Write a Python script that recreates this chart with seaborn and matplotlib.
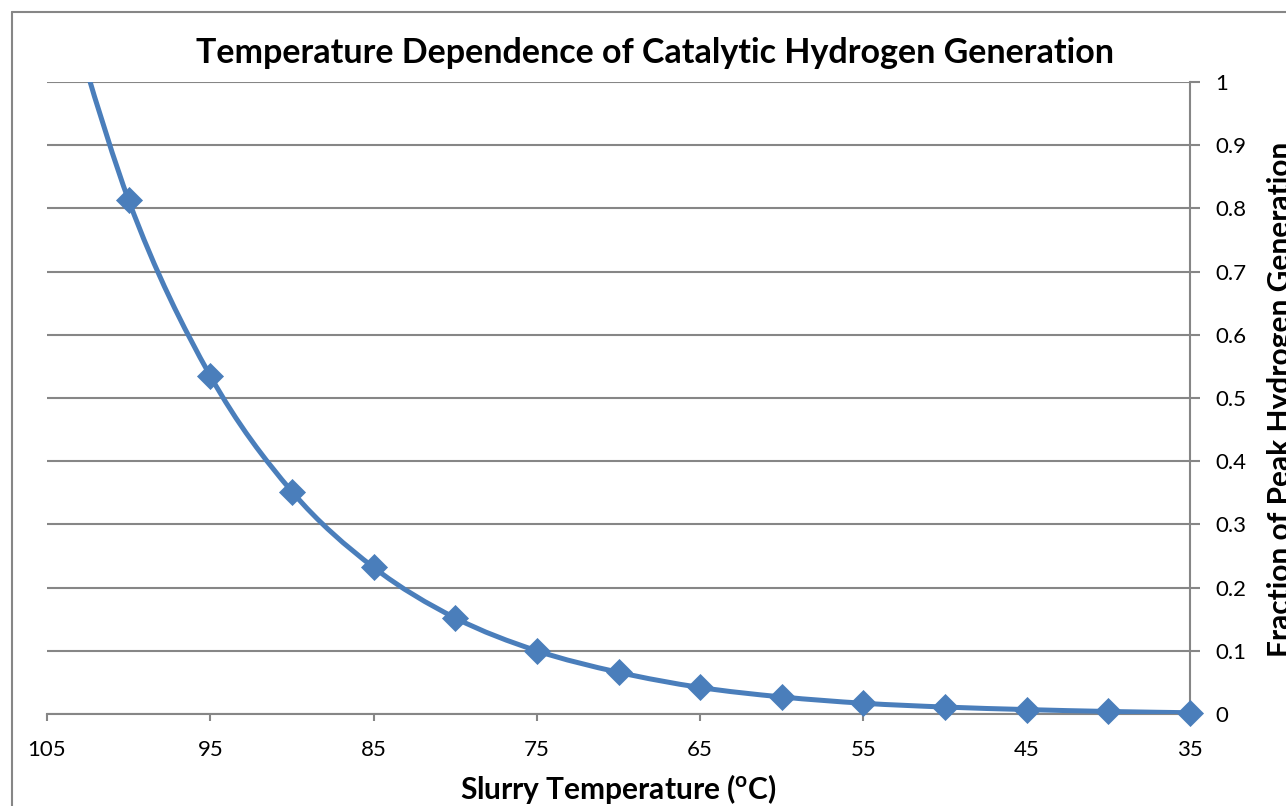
import numpy as np
import matplotlib
matplotlib.use("Agg")
import matplotlib.pyplot as plt
import seaborn as sns
from matplotlib.path import Path
from matplotlib.patches import PathPatch
from matplotlib.lines import Line2D

# data
temperature = [105, 100, 95, 90, 85, 80, 75, 70, 65, 60, 55, 50, 45, 40, 35]
fraction = [1.23, 0.813, 0.535, 0.352, 0.232, 0.152, 0.100, 0.066, 0.042,
            0.027, 0.017, 0.011, 0.007, 0.004, 0.002]
x_ticks = [105, 95, 85, 75, 65, 55, 45, 35]
y_ticks = [0, 0.1, 0.2, 0.3, 0.4, 0.5, 0.6, 0.7, 0.8, 0.9, 1]
y_ticklabels = ["0", "0.1", "0.2", "0.3", "0.4", "0.5", "0.6", "0.7", "0.8", "0.9", "1"]

BLUE = "#4A7EBB"
GRID = "#868686"
W, H = 1286, 806


def smooth_path(x, y, t=1 / 6):
    """Bezier path through the points, like Excel's smoothed line."""
    pts = np.column_stack([x, y]).astype(float)
    n = len(pts)
    verts = [pts[0]]
    codes = [Path.MOVETO]
    for i in range(n - 1):
        p0 = pts[i - 1] if i > 0 else pts[i]
        p1 = pts[i]
        p2 = pts[i + 1]
        p3 = pts[i + 2] if i + 2 < n else p2
        verts += [p1 + (p2 - p0) * t, p2 - (p3 - p1) * t, p2]
        codes += [Path.CURVE4] * 3
    return Path(verts, codes)


sns.set_theme(style="white")
plt.rcParams["font.family"] = ["Lato", "DejaVu Sans"]
plt.rcParams["text.color"] = "black"
plt.rcParams["axes.labelcolor"] = "black"

fig = plt.figure(figsize=(W / 100, H / 100), dpi=100)
ax = fig.add_axes([47 / W, (H - 714) / H, (1190 - 47) / W, (714 - 82) / H])

# smoothed line
patch = PathPatch(smooth_path(temperature, fraction), fill=False,
                  edgecolor=BLUE, lw=3.6, capstyle="round", joinstyle="round", zorder=3)
ax.add_patch(patch)

# markers (points inside the plotted range)
t_arr = np.array(temperature)
f_arr = np.array(fraction)
inside = f_arr <= 1
sns.scatterplot(x=t_arr[inside], y=f_arr[inside], marker="D", s=190, color=BLUE,
                edgecolor=BLUE, linewidth=0, ax=ax, zorder=5, clip_on=False)

ax.set_xlim(105, 35)
ax.set_ylim(0, 1)
ax.set_xticks(x_ticks)
ax.set_xticklabels([str(v) for v in x_ticks])
ax.set_yticks(y_ticks)
ax.set_yticklabels(y_ticklabels)

ax.yaxis.tick_right()
ax.grid(axis="y", color=GRID, lw=1.5)
ax.grid(axis="x", visible=False)
ax.set_axisbelow(True)
for side in ["left", "top"]:
    ax.spines[side].set_visible(False)
for side in ["bottom", "right"]:
    ax.spines[side].set_color(GRID)
    ax.spines[side].set_linewidth(1.5)

ax.tick_params(axis="x", direction="out", length=5, width=1.5, color=GRID,
               pad=14, labelsize=16, labelcolor="black", bottom=True)
ax.tick_params(axis="y", direction="out", length=7, width=1.5, color=GRID,
               pad=11, labelsize=16, labelcolor="black", right=True, left=False)
for lab in ax.get_yticklabels():
    lab.set_horizontalalignment("left")

# titles / labels
fig.text(655 / W, 1 - 63 / H, "Temperature Dependence of Catalytic Hydrogen Generation",
         ha="center", va="baseline", fontsize=24.5, fontweight="bold", color="black")
fig.text(618 / W, 1 - 799 / H, r"Slurry Temperature ($\mathregular{^o}$C)",
         ha="center", va="baseline", fontsize=21.5, fontweight="bold", color="black")
fig.text(1267 / W, 1 - 399 / H, "Fraction of Peak Hydrogen Generation",
         ha="left", va="center", rotation=90, fontsize=21.5, fontweight="bold", color="black")

# chart-area border
fig.add_artist(Line2D([11.5 / W, 11.5 / W], [0, 1 - 11.5 / H],
                      transform=fig.transFigure, color=GRID, lw=1.5))
fig.add_artist(Line2D([11.5 / W, 1], [1 - 11.5 / H, 1 - 11.5 / H],
                      transform=fig.transFigure, color=GRID, lw=1.5))

fig.savefig("out.png", dpi=100)
